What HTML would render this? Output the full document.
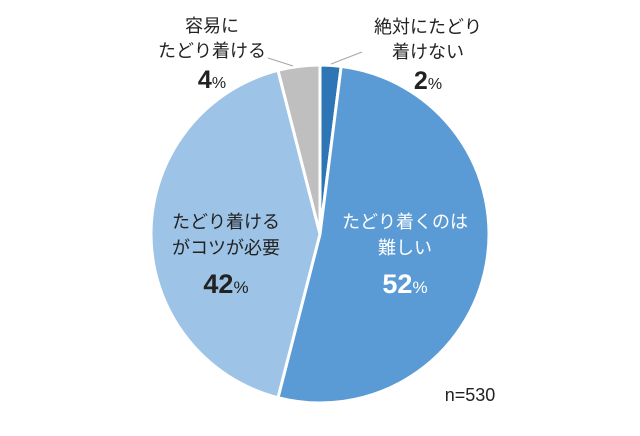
<!DOCTYPE html>
<html><head><meta charset="utf-8"><style>
body{margin:0;background:#fff;}
svg{display:block;font-family:"Liberation Sans","Noto Sans CJK JP",sans-serif;}
</style></head><body>
<svg id="chart" width="640" height="436" viewBox="0 0 640 436">
<g id="slices"></g>
<line x1="331" y1="64" x2="362" y2="52" stroke="#a6a6a6" stroke-width="1"/>
<line x1="293" y1="66" x2="268" y2="58" stroke="#a6a6a6" stroke-width="1"/>
<g font-size="18" fill="#222" text-anchor="middle">
<text x="212" y="32">容易に</text>
<text x="212" y="57">たどり着ける</text>
<text x="212" y="88"><tspan font-size="25" font-weight="bold">4</tspan><tspan font-size="16">%</tspan></text>
<text x="428" y="33">絶対にたどり</text>
<text x="428" y="58">着けない</text>
<text x="428" y="89"><tspan font-size="25" font-weight="bold">2</tspan><tspan font-size="16">%</tspan></text>
<text x="226" y="228">たどり着ける</text>
<text x="226" y="254">がコツが必要</text>
<text x="226" y="293"><tspan font-size="27" font-weight="bold">42</tspan><tspan font-size="17">%</tspan></text>
<text x="405" y="228" fill="#fff">たどり着くのは</text>
<text x="405" y="254" fill="#fff">難しい</text>
<text x="405" y="293" fill="#fff"><tspan font-size="27" font-weight="bold">52</tspan><tspan font-size="17">%</tspan></text>
<text x="470" y="401" font-size="18">n=530</text>
</g>
</svg>
<script>
const categories = ["絶対にたどり着けない", "たどり着くのは難しい", "たどり着けるがコツが必要", "容易にたどり着ける"];
const values = [2, 52, 42, 4];
const colors = ["#2e75b6", "#5b9bd5", "#9dc3e6", "#bfbfbf"];
const cx = 320, cy = 234, r = 169;
const total = values.reduce((a, b) => a + b, 0);
function angle(v) { return v / total * Math.PI * 2 - Math.PI / 2; }
function pt(a) { return [cx + r * Math.cos(a), cy + r * Math.sin(a)]; }
const g = document.getElementById('slices');
let acc = 0;
values.forEach((v, i) => {
  const a0 = angle(acc), a1 = angle(acc + v);
  acc += v;
  const p0 = pt(a0), p1 = pt(a1);
  const large = (a1 - a0) > Math.PI ? 1 : 0;
  const path = document.createElementNS('http://www.w3.org/2000/svg', 'path');
  path.setAttribute('d', `M${cx},${cy} L${p0[0]},${p0[1]} A${r},${r} 0 ${large} 1 ${p1[0]},${p1[1]} Z`);
  path.setAttribute('fill', colors[i]);
  path.setAttribute('stroke', '#fff');
  path.setAttribute('stroke-width', '3');
  
  
  g.appendChild(path);
});
</script>
</body></html>
